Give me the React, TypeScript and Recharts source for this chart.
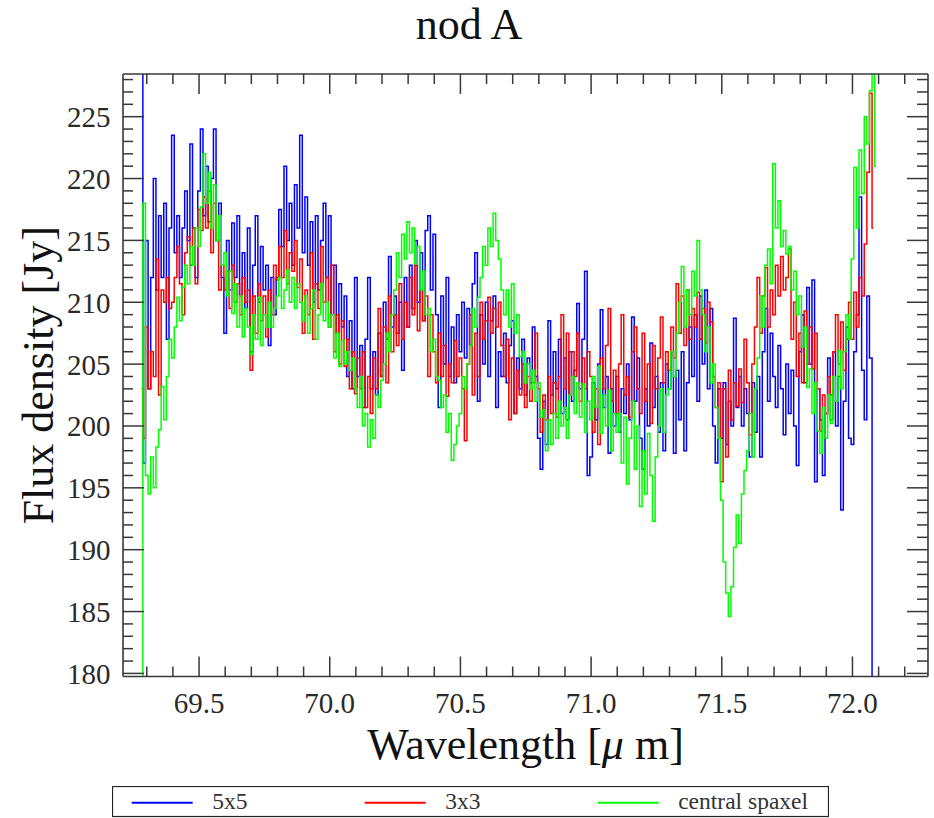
import React from "react";
import { LineChart, Line, XAxis, YAxis, Legend } from "recharts";

// ---------- data ----------
const wavelengths = [
  69.28, 69.29,
  69.30, 69.31, 69.32, 69.33, 69.34, 69.35, 69.36, 69.37, 69.38, 69.39,
  69.40, 69.41, 69.42, 69.43, 69.44, 69.45, 69.46, 69.47, 69.48, 69.49,
  69.50, 69.51, 69.52, 69.53, 69.54, 69.55, 69.56, 69.57, 69.58, 69.59,
  69.60, 69.61, 69.62, 69.63, 69.64, 69.65, 69.66, 69.67, 69.68, 69.69,
  69.70, 69.71, 69.72, 69.73, 69.74, 69.75, 69.76, 69.77, 69.78, 69.79,
  69.80, 69.81, 69.82, 69.83, 69.84, 69.85, 69.86, 69.87, 69.88, 69.89,
  69.90, 69.91, 69.92, 69.93, 69.94, 69.95, 69.96, 69.97, 69.98, 69.99,
  70.00, 70.01, 70.02, 70.03, 70.04, 70.05, 70.06, 70.07, 70.08, 70.09,
  70.10, 70.11, 70.12, 70.13, 70.14, 70.15, 70.16, 70.17, 70.18, 70.19,
  70.20, 70.21, 70.22, 70.23, 70.24, 70.25, 70.26, 70.27, 70.28, 70.29,
  70.30, 70.31, 70.32, 70.33, 70.34, 70.35, 70.36, 70.37, 70.38, 70.39,
  70.40, 70.41, 70.42, 70.43, 70.44, 70.45, 70.46, 70.47, 70.48, 70.49,
  70.50, 70.51, 70.52, 70.53, 70.54, 70.55, 70.56, 70.57, 70.58, 70.59,
  70.60, 70.61, 70.62, 70.63, 70.64, 70.65, 70.66, 70.67, 70.68, 70.69,
  70.70, 70.71, 70.72, 70.73, 70.74, 70.75, 70.76, 70.77, 70.78, 70.79,
  70.80, 70.81, 70.82, 70.83, 70.84, 70.85, 70.86, 70.87, 70.88, 70.89,
  70.90, 70.91, 70.92, 70.93, 70.94, 70.95, 70.96, 70.97, 70.98, 70.99,
  71.00, 71.01, 71.02, 71.03, 71.04, 71.05, 71.06, 71.07, 71.08, 71.09,
  71.10, 71.11, 71.12, 71.13, 71.14, 71.15, 71.16, 71.17, 71.18, 71.19,
  71.20, 71.21, 71.22, 71.23, 71.24, 71.25, 71.26, 71.27, 71.28, 71.29,
  71.30, 71.31, 71.32, 71.33, 71.34, 71.35, 71.36, 71.37, 71.38, 71.39,
  71.40, 71.41, 71.42, 71.43, 71.44, 71.45, 71.46, 71.47, 71.48, 71.49,
  71.50, 71.51, 71.52, 71.53, 71.54, 71.55, 71.56, 71.57, 71.58, 71.59,
  71.60, 71.61, 71.62, 71.63, 71.64, 71.65, 71.66, 71.67, 71.68, 71.69,
  71.70, 71.71, 71.72, 71.73, 71.74, 71.75, 71.76, 71.77, 71.78, 71.79,
  71.80, 71.81, 71.82, 71.83, 71.84, 71.85, 71.86, 71.87, 71.88, 71.89,
  71.90, 71.91, 71.92, 71.93, 71.94, 71.95, 71.96, 71.97, 71.98, 71.99,
  72.00, 72.01, 72.02, 72.03, 72.04, 72.05, 72.06, 72.07, 72.08, 72.09,
];

const flux5x5 = [
  240, 197,
  215, 203, 212, 220, 211, 217, 212, 218, 207, 216,
  223.5, 214, 217, 212, 216, 219, 215, 222.8, 216, 212,
  219, 224, 217, 221, 216.5, 220, 224, 215, 218, 212,
  207.5, 215, 211, 216.4, 212, 217, 210.5, 214, 209.5, 216,
  206, 213, 217, 210, 214.5, 211, 213, 206.5, 212, 209,
  212, 217.5, 214.5, 221, 215, 218, 213, 219.5, 216, 223.5,
  214, 218.5, 213, 216.5, 210, 217, 211, 215, 218, 212,
  217, 209, 213, 207.5, 211.5, 208, 210.5, 204, 208.5, 203,
  212, 204, 206.5, 201.5, 207, 212, 203, 206, 202.5, 207.5,
  204, 210, 207, 213.7, 208, 210.5, 207.5, 210, 204.5, 212,
  208, 213, 209.5, 215, 210, 214, 208.5, 215.8, 217, 211,
  215.5, 209, 201.5, 210.5, 205, 212, 204, 208, 203.5, 209,
  206, 210, 205.5, 209.5, 206.5, 211.5, 214, 202, 209, 205,
  210, 204, 208.5, 210.5, 201.5, 206, 204, 207.5, 203.5, 206.5,
  208.5, 201, 205.5, 203, 207, 202.5, 205.5, 203.5, 208, 204,
  199, 196.5, 202, 198.5, 208.5, 202.5, 206, 203, 207, 201,
  205.5, 200.5, 206, 202, 204.5, 209.9, 203, 207, 212.5, 196,
  197.5, 203.5, 200.5, 205, 209.4, 201.5, 204, 197.8, 203, 200,
  204, 199.5, 203, 201, 205, 200.5, 208.8, 202, 205.5, 199,
  196.5, 203, 200, 206.7, 201.5, 204, 199.5, 203.5, 198, 205,
  203, 206, 197.8, 204.5, 200.5, 206, 198, 203.5, 208, 204,
  209, 202, 210.5, 205, 211, 203, 209.5, 200, 197, 203,
  199, 203.5, 198.5, 202, 200, 208.7, 201.5, 204, 200, 203,
  201, 197.5, 203.5, 199.5, 204, 197.5, 206, 209.5, 202, 207.5,
  204, 201.5, 206.5, 203, 199.3, 205, 201, 204.5, 200, 196.8,
  206, 209, 203.5, 211.2, 205, 211.8, 195.5, 203, 200.5, 196,
  201, 205.5, 202.5, 206, 200, 204, 193.2, 202, 208, 199,
  198.5, 206, 209, 218.5, 204.5, 200.5, 210.5, 205.5, 170, null,
];

const flux3x3 = [
  203, 199,
  208, 203, 206, 204, 213.5, 202.5, 211, 210, 212, 209.5,
  210, 212, 214.5, 211.5, 209, 214, 215.3, 213, 216, 211.5,
  217.5, 215.8, 218.5, 216, 219, 214, 218, 215, 211, 213,
  211, 212.5, 209.5, 213, 210, 211.5, 209, 212, 210, 211,
  204.5, 210.5, 207.5, 211.5, 208.5, 210.5, 207.2, 211, 209, 213,
  211.8, 214.5, 212, 215.8, 211.5, 214, 212.5, 215, 211.2, 213.5,
  207.5, 211, 209, 214, 207, 211.5, 209.5, 214.5, 210, 212,
  208, 213, 206, 209, 205, 208.5, 204.8, 207, 203, 206,
  202.6, 205.5, 203, 206, 201.5, 204, 201, 205.5, 203, 209.5,
  204, 208, 203.5, 210.5, 206, 209, 206.5, 211.5, 207, 210,
  208, 212, 209, 213, 207.7, 211, 208.5, 210.5, 204, 209,
  206, 203.5, 207.5, 204, 206.5, 202.4, 205, 203.5, 206.9, 204,
  205.5, 203, 198.8, 205, 209, 202.5, 207.5, 204, 210, 207,
  208.5, 210.4, 207.5, 209.5, 208, 210, 206.5, 204, 207, 200.5,
  205.5, 201, 204.5, 202.5, 205, 201.5, 204, 202, 203.5, 207.5,
  203, 199.5, 202.5, 200.5, 204, 201, 203.5, 200.7, 204, 209,
  203, 207.5, 202.5, 206, 204, 207.5, 202, 205.5, 203, 206,
  204, 199.5, 203, 198.5, 205.5, 203, 206.5, 209.5, 202, 204.5,
  201, 205, 209, 202.5, 204, 200.7, 206, 208, 203, 201,
  207.5, 202, 205, 200.2, 206.5, 203, 205.5, 208.8, 203.5, 206,
  204.5, 208, 205.5, 211.5, 207.5, 210.5, 206.5, 211, 207, 209.5,
  208, 210.8, 207, 209.5, 206.7, 210, 208.4, 204, 201.5, 203.5,
  195.5, 203, 197.5, 204.5, 200.5, 203.5, 201.6, 204.6, 201.9, 207,
  203.5, 199.3, 205, 208, 212, 207.5, 210.5, 212.8, 208, 211,
  209, 213, 210.5, 213.7, 211, 212, 214.3, 207, 210, 204,
  207.5, 203.5, 209.3, 205, 208, 204.6, 207.5, 203, 199.6, 202.5,
  201, 204, 200.5, 206, 209, 205, 208.4, 204.5, 207, 210,
  207, 210.8, 208, 212, 210.5, 214.7, 220.5, 226.9, 216, null,
];

const fluxCentral = [
  178, 218,
  196, 194.5, 197.5, 195, 198.3, 199.7, 203.2, 200.5, 204, 207,
  205.5, 208, 210.4, 208.5, 211.2, 213, 211.5, 214.5, 213, 216,
  214.5, 217.7, 222, 218, 220.5, 216, 219.5, 215, 217, 213,
  214, 210.5, 212.5, 209.1, 211.5, 208, 210.5, 207.2, 209.5, 208,
  205.8, 209, 207, 210.4, 206.5, 209, 208, 210, 208, 209.5,
  210.5, 212, 209.5, 211, 212.6, 210, 212, 209.5, 211.5, 210,
  208.5, 210.5, 207.5, 209.5, 211, 207, 209, 211.5, 208.5, 210,
  208, 209, 205.5, 207.5, 204.8, 206.9, 205, 206, 204.5, 205.5,
  203, 201.5, 204, 200, 201, 198.3, 200.5, 199, 202.5, 201.5,
  203.7, 205, 207.5, 206, 209, 211, 214, 212, 215.5, 213.5,
  216.5, 214, 216, 213.1, 214.5, 211, 212.5, 209, 209.5, 206,
  207, 204, 203.7, 201.5, 202.5, 199.5, 201, 197.2, 198.5, 200,
  201, 204, 203, 205, 206.5, 209.5, 208, 210.4, 212, 214.5,
  213, 216, 214.5, 217.2, 215, 213.5, 211, 209, 211, 208,
  211.5, 207.5, 209, 205.6, 206, 203.5, 205, 203, 204.5, 202,
  203.5, 200.7, 201.3, 198, 200.5, 198.5, 201, 199, 202, 200,
  201.5, 199, 202.5, 204, 201, 203.5, 200.7, 203.4, 199.5, 202,
  200.5, 204, 201.5, 204.8, 199.4, 202.5, 200, 202.9, 198, 201,
  199.5, 201, 197, 200.7, 195.3, 199, 202, 196.5, 200, 193.5,
  198, 194.5, 199.4, 196, 192.3, 197.5, 200, 203, 199.5, 202.5,
  203, 206, 204, 207.5, 210, 212.9, 208, 211, 209, 212.5,
  210.5, 215, 211, 209, 206, 208, 203.5, 205, 201.5, 199,
  194, 189, 186.5, 184.6, 187, 190.2, 192.8, 190.5, 194.5, 196.4,
  198, 201, 197.5, 203, 205.5, 210.5, 208, 213, 214.3, 211.5,
  221.2, 216, 218.2, 214.5, 215.8, 213.9, 214.5, 211, 212.5, 209,
  210.5, 206.4, 208, 203.1, 204.6, 201, 203.5, 199.6, 197.8, 201.5,
  199, 202.5, 200.2, 204, 202, 206.1, 203, 206, 209, 207,
  213.5, 220.9, 216, 222.3, 218.8, 225, 222.8, 227.1, 232, 221,
];

const seriesNames = ["5x5", "3x3", "central spaxel"];
const seriesColors = ["#0000ff", "#ff0000", "#00ff00"];

const xTicks = [
  69.3, 69.4, 69.5, 69.6, 69.7, 69.8, 69.9, 70.0, 70.1, 70.2,
  70.3, 70.4, 70.5, 70.6, 70.7, 70.8, 70.9, 71.0, 71.1, 71.2,
  71.3, 71.4, 71.5, 71.6, 71.7, 71.8, 71.9, 72.0, 72.1, 72.2,
];
const yTicks = [
  180, 181, 182, 183, 184, 185, 186, 187, 188, 189,
  190, 191, 192, 193, 194, 195, 196, 197, 198, 199,
  200, 201, 202, 203, 204, 205, 206, 207, 208, 209,
  210, 211, 212, 213, 214, 215, 216, 217, 218, 219,
  220, 221, 222, 223, 224, 225, 226, 227, 228,
];

const X_DOMAIN: [number, number] = [69.209, 72.289];
const Y_DOMAIN: [number, number] = [179.75, 228.45];

const data = wavelengths.map((w, i) => ({
  w,
  b: flux5x5[i],
  r: flux3x3[i],
  g: fluxCentral[i],
}));

// ---------- styling ----------
const W = 934;
const H = 818;
const FONT = "'Liberation Serif', 'Times New Roman', serif";
const AXIS = "#383838";
const TXT = "#2a2a2a";

const isMajorX = (v: number) => Math.abs(v * 2 - Math.round(v * 2)) < 1e-6;
const isMajorY = (v: number) => Math.abs(v / 5 - Math.round(v / 5)) < 1e-6;

function LeftTick(props: any) {
  const { x, y, payload } = props;
  const v = payload.value as number;
  const major = isMajorY(v);
  return (
    <g>
      <line x1={x} y1={y} x2={x + (major ? 21 : 10)} y2={y} stroke={AXIS} strokeWidth={1.5} />
      {major && (
        <text x={x - 12.5} y={y + 10.5} textAnchor="end" fontSize={29} fontFamily={FONT} fill={TXT}>
          {v}
        </text>
      )}
    </g>
  );
}

function RightTick(props: any) {
  const { x, y, payload } = props;
  const v = payload.value as number;
  const major = isMajorY(v);
  return <line x1={x} y1={y} x2={x - (major ? 21 : 11)} y2={y} stroke={AXIS} strokeWidth={1.5} />;
}

function BottomTick(props: any) {
  const { x, y, payload } = props;
  const v = payload.value as number;
  const major = isMajorX(v);
  return (
    <g>
      <line x1={x} y1={y} x2={x} y2={y - (major ? 20 : 10)} stroke={AXIS} strokeWidth={1.5} />
      {major && (
        <text x={x} y={y + 36} textAnchor="middle" fontSize={29} fontFamily={FONT} fill={TXT}>
          {v.toFixed(1)}
        </text>
      )}
    </g>
  );
}

function TopTick(props: any) {
  const { x, y, payload } = props;
  const v = payload.value as number;
  const major = isMajorX(v);
  return <line x1={x} y1={y} x2={x} y2={y + (major ? 20 : 10)} stroke={AXIS} strokeWidth={1.5} />;
}

const xLabel = (p: any) => {
  const vb = p.viewBox;
  return (
    <text x={vb.x + vb.width / 2} y={vb.y + 82} textAnchor="middle" fontSize={44} fontFamily={FONT} fill="#111">
      Wavelength [<tspan fontStyle="italic">μ</tspan> m]
    </text>
  );
};

const yLabel = (p: any) => {
  const vb = p.viewBox;
  const cx = vb.x + 53;
  const cy = vb.y + vb.height / 2;
  return (
    <text
      x={cx}
      y={cy}
      transform={`rotate(-90, ${cx}, ${cy})`}
      textAnchor="middle"
      fontSize={44}
      fontFamily={FONT}
      fill="#111"
    >
      Flux density [Jy]
    </text>
  );
};

const titleLabel = () => (
  <text x={469} y={39} textAnchor="middle" fontSize={44} fontFamily={FONT} fill="#111">
    nod A
  </text>
);

function LegendBox(props: any) {
  const payload = [...(props.payload || [])].sort(
    (a: any, b: any) => seriesNames.indexOf(a.value) - seriesNames.indexOf(b.value)
  );
  return (
    <svg width={717} height={32} style={{ display: "block" }}>
      <rect x={0.5} y={0.5} width={716} height={30} fill="#fff" stroke="#222" strokeWidth={1.2} />
      {payload.map((e: any, i: number) => (
        <g key={i}>
          <line x1={19.7 + 233 * i} x2={80.7 + 233 * i} y1={16.7} y2={16.7} stroke={e.color} strokeWidth={2} />
          <text x={100.2 + 233 * i} y={23} fontSize={23.5} fontFamily={FONT} fill="#333">
            {e.value}
          </text>
        </g>
      ))}
    </svg>
  );
}

export default function App() {
  return (
    <div style={{ position: "absolute", left: 0, top: 0, width: W, height: H, background: "#fff" }}>
      <LineChart width={W} height={H} data={data} margin={{ top: 0, right: 0, bottom: 0, left: 0 }}>
        <XAxis
          xAxisId="bottom"
          dataKey="w"
          type="number"
          domain={X_DOMAIN}
          allowDataOverflow
          ticks={xTicks}
          interval={0}
          tickSize={0}
          tickMargin={0}
          tickLine={false}
          tick={BottomTick}
          height={141.5}
          axisLine={{ stroke: AXIS, strokeWidth: 1.6 }}
          label={{ content: xLabel }}
        />
        <XAxis
          xAxisId="top"
          orientation="top"
          dataKey="w"
          type="number"
          domain={X_DOMAIN}
          allowDataOverflow
          ticks={xTicks}
          interval={0}
          tickSize={0}
          tickMargin={0}
          tickLine={false}
          tick={TopTick}
          height={74}
          axisLine={{ stroke: AXIS, strokeWidth: 1.6 }}
          label={{ content: titleLabel }}
        />
        <YAxis
          yAxisId="left"
          type="number"
          domain={Y_DOMAIN}
          allowDataOverflow
          ticks={yTicks}
          interval={0}
          tickSize={0}
          tickMargin={0}
          tickLine={false}
          tick={LeftTick}
          width={123}
          axisLine={{ stroke: AXIS, strokeWidth: 1.6 }}
          label={{ content: yLabel }}
        />
        <YAxis
          yAxisId="right"
          orientation="right"
          type="number"
          domain={Y_DOMAIN}
          allowDataOverflow
          ticks={yTicks}
          interval={0}
          tickSize={0}
          tickMargin={0}
          tickLine={false}
          tick={RightTick}
          width={6}
          axisLine={{ stroke: AXIS, strokeWidth: 1.6 }}
        />
        <Legend
          layout="horizontal"
          verticalAlign="middle"
          align="center"
          content={LegendBox}
          wrapperStyle={{ left: 112, top: 786, width: 717, height: 32 }}
        />
        <Line
          xAxisId="bottom"
          yAxisId="left"
          type="step"
          dataKey="b"
          name={seriesNames[0]}
          stroke={seriesColors[0]}
          strokeWidth={1.5}
          dot={false}
          isAnimationActive={false}
        />
        <Line
          xAxisId="bottom"
          yAxisId="left"
          type="step"
          dataKey="r"
          name={seriesNames[1]}
          stroke={seriesColors[1]}
          strokeWidth={1.5}
          dot={false}
          isAnimationActive={false}
        />
        <Line
          xAxisId="bottom"
          yAxisId="left"
          type="step"
          dataKey="g"
          name={seriesNames[2]}
          stroke={seriesColors[2]}
          strokeWidth={1.5}
          dot={false}
          isAnimationActive={false}
        />
      </LineChart>
    </div>
  );
}
